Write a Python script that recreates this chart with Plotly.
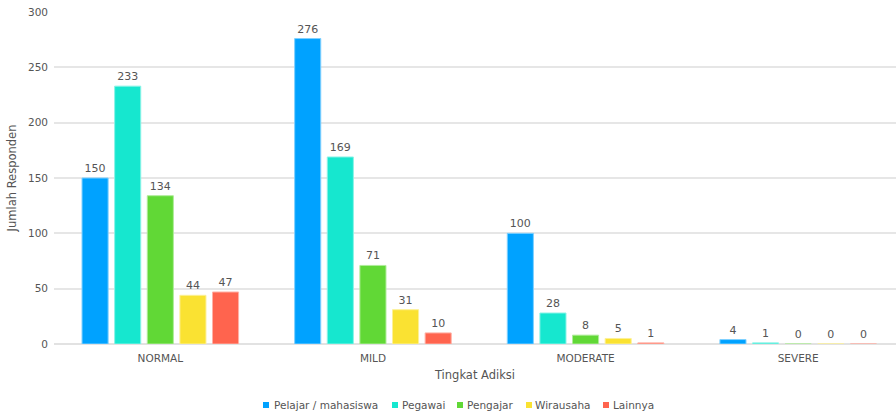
import plotly.graph_objects as go

categories = ["NORMAL", "MILD", "MODERATE", "SEVERE"]
series_names = ["Pelajar / mahasiswa", "Pegawai", "Pengajar", "Wirausaha", "Lainnya"]
pelajar = [150, 276, 100, 4]
pegawai = [233, 169, 28, 1]
pengajar = [134, 71, 8, 0]
wirausaha = [44, 31, 5, 0]
lainnya = [47, 10, 1, 0]
colors = ["#00A2FF", "#16E7CF", "#61D836", "#FAE232", "#FF644E"]
line_colors = ["#7fd0ff", "#8af3e7", "#b0ec9a", "#fcf098", "#ffb1a6"]
legend_sq_x = [263, 392, 457, 526, 603]
legend_txt_x = [272, 400, 465, 533, 611]

FONT = "DejaVu Sans"
GREY = "#555555"
L, T, W, H = 54, 12, 842, 332


def px(x):
    return (x - L) / W


def py(y):
    return (T + H - y) / H


fig = go.Figure()
for name, vals, c, lc in zip(series_names, [pelajar, pegawai, pengajar, wirausaha, lainnya], colors, line_colors):
    fig.add_trace(go.Bar(
        x=categories, y=vals, name=name,
        marker=dict(color=c, line=dict(color=lc, width=1)),
        text=[str(v) for v in vals], textposition="outside",
        textfont=dict(size=11, color=GREY),
        cliponaxis=False, showlegend=False,
    ))

annotations = []
shapes = []
for name, c, sx, tx in zip(series_names, colors, legend_sq_x, legend_txt_x):
    shapes.append(dict(type="rect", xref="paper", yref="paper",
                       x0=px(sx), x1=px(sx + 6), y0=py(408), y1=py(402),
                       fillcolor=c, line=dict(width=0)))
    annotations.append(dict(
        xref="paper", yref="paper",
        x=px(tx), y=py(405),
        xanchor="left", yanchor="middle", showarrow=False,
        text=name,
        font=dict(family=FONT, size=10.5, color=GREY),
    ))

fig.update_layout(
    width=896, height=414,
    margin=dict(l=L, r=0, t=T, b=414 - T - H, autoexpand=False),
    paper_bgcolor="white", plot_bgcolor="white",
    font=dict(family=FONT, size=10.5, color=GREY),
    barmode="group", bargap=0.233, bargroupgap=0.2,
    showlegend=False,
    annotations=annotations,
    shapes=shapes,
    xaxis=dict(title=dict(text="Tingkat Adiksi", font=dict(size=11.5, color=GREY), standoff=8),
               range=[-0.5, 3.46], showgrid=False, ticks="", ticklabelstandoff=6,
               tickfont=dict(size=10.5, color=GREY)),
    yaxis=dict(title=dict(text="Jumlah Responden", font=dict(size=11.5, color=GREY), standoff=8),
               range=[0, 300], dtick=50, showgrid=True, gridcolor="#e6e6e6", gridwidth=1.5,
               zeroline=True, zerolinecolor="#e2e2e2", zerolinewidth=2,
               ticklabelstandoff=5,
               tickfont=dict(size=10.5, color=GREY)),
)

fig.write_html("out.html")
